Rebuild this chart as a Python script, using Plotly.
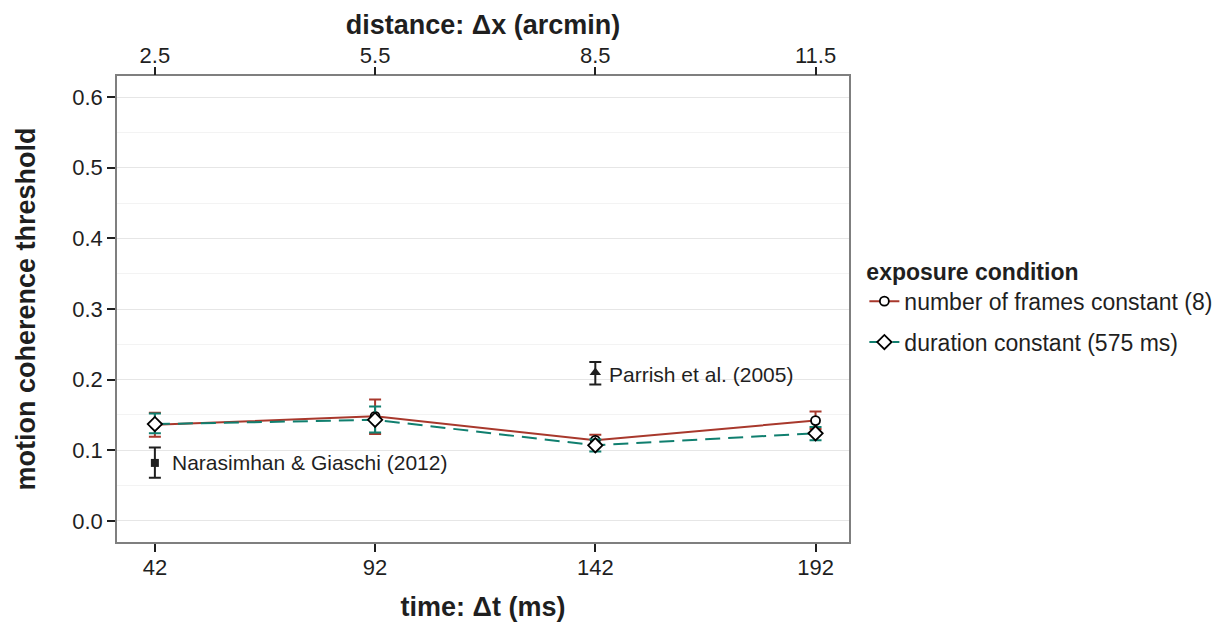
import plotly.graph_objects as go

time_ms = [42, 92, 142, 192]
distance_labels = ["2.5", "5.5", "8.5", "11.5"]

frames_y = [0.136, 0.148, 0.114, 0.142]
frames_hi = [0.153, 0.172, 0.122, 0.155]
frames_lo = [0.119, 0.123, 0.106, 0.130]

duration_y = [0.137, 0.143, 0.107, 0.124]
duration_hi = [0.152, 0.162, 0.115, 0.133]
duration_lo = [0.124, 0.125, 0.098, 0.114]

nar_x, nar_y, nar_hi, nar_lo = [42], [0.082], [0.104], [0.061]
par_x, par_y, par_hi, par_lo = [142], [0.210], [0.225], [0.193]

RED = "#A8382C"
TEAL = "#107F6F"
INK = "#1f1f1f"

def plus(hi, y):
    return [h - v for h, v in zip(hi, y)]

def minus(lo, y):
    return [v - l for l, v in zip(lo, y)]

fig = go.Figure()

fig.add_trace(go.Scatter(
    x=time_ms, y=frames_y, mode="lines+markers",
    name="number of frames constant (8)", legendgroup="frames",
    line=dict(color=RED, width=2),
    marker=dict(symbol="circle", size=9, color="white", line=dict(color="black", width=1.8)),
    error_y=dict(type="data", symmetric=False, array=plus(frames_hi, frames_y),
                 arrayminus=minus(frames_lo, frames_y), color=RED, thickness=2, width=6),
))
fig.add_trace(go.Scatter(
    x=time_ms, y=duration_y, mode="lines+markers",
    name="duration constant (575 ms)", legendgroup="duration",
    line=dict(color=TEAL, width=2, dash="15px,8px"),
    marker=dict(symbol="diamond", size=11, color="white", line=dict(color="black", width=1.8)),
    error_y=dict(type="data", symmetric=False, array=plus(duration_hi, duration_y),
                 arrayminus=minus(duration_lo, duration_y), color=TEAL, thickness=2, width=6),
))
fig.add_trace(go.Scatter(
    x=nar_x, y=nar_y, mode="markers", showlegend=False,
    marker=dict(symbol="square", size=8, color=INK),
    error_y=dict(type="data", symmetric=False, array=plus(nar_hi, nar_y),
                 arrayminus=minus(nar_lo, nar_y), color=INK, thickness=2, width=6),
))
fig.add_trace(go.Scatter(
    x=par_x, y=par_y, mode="markers", showlegend=False,
    marker=dict(symbol="triangle-up", size=10, color=INK),
    error_y=dict(type="data", symmetric=False, array=plus(par_hi, par_y),
                 arrayminus=minus(par_lo, par_y), color=INK, thickness=2, width=6),
))
# invisible trace on top axis
fig.add_trace(go.Scatter(x=time_ms, y=frames_y, xaxis="x2", mode="markers",
                         marker=dict(opacity=0), showlegend=False, hoverinfo="skip"))

fig.add_annotation(x=42, y=nar_y[0], text="Narasimhan &amp; Giaschi (2012)", showarrow=False,
                   xanchor="left", xshift=15, font=dict(size=21, color=INK))
fig.add_annotation(x=142, y=par_y[0], text="Parrish et al. (2005)", showarrow=False,
                   xanchor="left", xshift=12, yshift=-2, font=dict(size=21, color=INK))

xr = [33.4, 199.6]
tickfont = dict(size=22, color=INK)
titlefont = dict(size=27, color=INK)
fig.update_layout(
    width=1227, height=626,
    margin=dict(l=117, r=378, t=76, b=84, autoexpand=False),
    paper_bgcolor="white", plot_bgcolor="white",
    font=dict(family="Liberation Sans, Arial, sans-serif", color=INK),
    xaxis=dict(range=xr, tickvals=time_ms, ticktext=[str(t) for t in time_ms],
               showgrid=False, zeroline=False, ticks="outside", ticklen=8, tickwidth=1.5,
               tickcolor=INK, tickfont=tickfont, ticklabelstandoff=-3,
               showline=True, linecolor="#7f7f7f", linewidth=1.5, mirror=True,
               title=dict(text="<b>time: Δt (ms)</b>", font=titlefont, standoff=18)),
    xaxis2=dict(range=xr, overlaying="x", side="top", tickvals=time_ms, ticktext=distance_labels,
                showgrid=False, zeroline=False, ticks="outside", ticklen=8, tickwidth=1.5,
                tickcolor=INK, tickfont=tickfont, ticklabelstandoff=-5,
                title=dict(text="<b>distance: Δx (arcmin)</b>", font=titlefont, standoff=0)),
    yaxis=dict(range=[-0.03, 0.63], tickvals=[0, 0.1, 0.2, 0.3, 0.4, 0.5, 0.6],
               ticktext=["0.0", "0.1", "0.2", "0.3", "0.4", "0.5", "0.6"],
               showgrid=True, gridcolor="#e6e6e6", gridwidth=1.2, zeroline=False,
               minor=dict(tickvals=[0.05, 0.15, 0.25, 0.35, 0.45, 0.55], showgrid=True,
                          gridcolor="#f3f3f3", gridwidth=1),
               ticks="outside", ticklen=8, tickwidth=1.5, tickcolor=INK,
               tickfont=tickfont,
               showline=True, linecolor="#7f7f7f", linewidth=1.5, mirror=True,
               title=dict(text="<b>motion coherence threshold</b>", font=titlefont, standoff=29)),
    legend=dict(x=1.021, y=0.627, xanchor="left", yanchor="top",
                title=dict(text="<b>exposure condition</b>", font=dict(size=23, color=INK)),
                font=dict(size=23, color=INK), tracegroupgap=8),
)

fig.write_html("out.html")
